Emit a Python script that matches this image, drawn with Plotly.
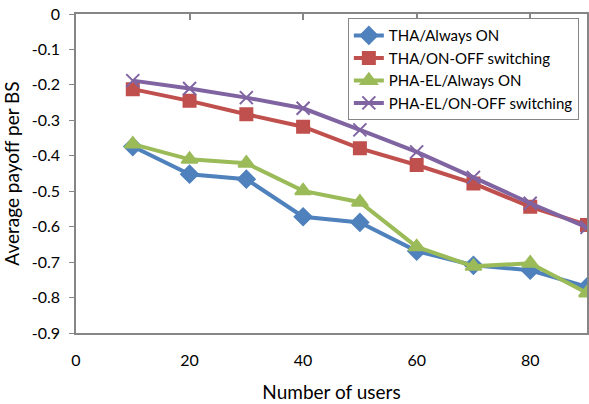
import plotly.graph_objects as go

users = [10, 20, 30, 40, 50, 60, 70, 80, 90]
tha_always_on = [-0.374, -0.452, -0.466, -0.572, -0.588, -0.669, -0.709, -0.723, -0.770]
tha_on_off = [-0.212, -0.245, -0.283, -0.318, -0.379, -0.426, -0.478, -0.544, -0.595]
pha_always_on = [-0.367, -0.410, -0.421, -0.499, -0.531, -0.657, -0.712, -0.703, -0.787]
pha_on_off = [-0.188, -0.210, -0.236, -0.266, -0.327, -0.389, -0.461, -0.534, -0.602]

y_ticks = [0, -0.1, -0.2, -0.3, -0.4, -0.5, -0.6, -0.7, -0.8, -0.9]
y_labels = ["0", "-0.1", "-0.2", "-0.3", "-0.4", "-0.5", "-0.6", "-0.7", "-0.8", "-0.9"]
x_ticks = [0, 20, 40, 60, 80]

series = [
    ("THA/Always ON", tha_always_on, "#4F81BD", "diamond", 13),
    ("THA/ON-OFF switching", tha_on_off, "#C0504D", "square", 12),
    ("PHA-EL/Always ON", pha_always_on, "#9BBB59", "triangle-up", 14),
    ("PHA-EL/ON-OFF switching", pha_on_off, "#8064A2", "x-thin-open", 13),
]

FONT = "Lato, sans-serif"
fig = go.Figure()
for name, ys, color, sym, size in series:
    fig.add_trace(go.Scatter(
        x=users, y=ys, name=name, mode="lines+markers",
        line=dict(color=color, width=4),
        marker=dict(symbol=sym, size=size, color=color,
                    line=dict(color=color, width=2)),
        cliponaxis=False,
    ))

fig.add_trace(go.Scatter(x=[0, 90], y=[0, 0], xaxis="x2", mode="none",
                         showlegend=False, hoverinfo="skip"))

fig.update_layout(
    width=589, height=404,
    margin=dict(l=76, r=2, t=14, b=71, autoexpand=False),
    paper_bgcolor="white", plot_bgcolor="white",
    font=dict(family=FONT, size=16, color="#000000"),
    xaxis=dict(range=[0, 90], tickvals=x_ticks, showgrid=False,
               zeroline=False, showline=True, linecolor="#868686", linewidth=1.5,
               mirror=True, ticks="", ticklabelstandoff=12, automargin=False,
               title=dict(text="Number of users", standoff=18)),
    xaxis2=dict(range=[0, 90], overlaying="x", side="top", tickvals=x_ticks,
                ticks="inside", ticklen=6, tickcolor="#868686", tickwidth=1.5,
                showticklabels=False, showgrid=False, zeroline=False, showline=False),
    yaxis=dict(range=[-0.9, 0], tickvals=y_ticks, ticktext=y_labels, showgrid=False,
               zeroline=False, showline=True, linecolor="#868686", linewidth=1.5,
               mirror=True, ticks="outside", ticklen=5, tickcolor="#868686",
               ticklabelstandoff=6, automargin=False,
               title=dict(text="Average payoff per BS", standoff=8)),
    legend=dict(x=0.532, y=0.987, xanchor="left", yanchor="top",
                bgcolor="white", bordercolor="#868686", borderwidth=1,
                font=dict(size=15), tracegroupgap=0, itemwidth=30),
    showlegend=True,
)

fig.write_html("out.html")
